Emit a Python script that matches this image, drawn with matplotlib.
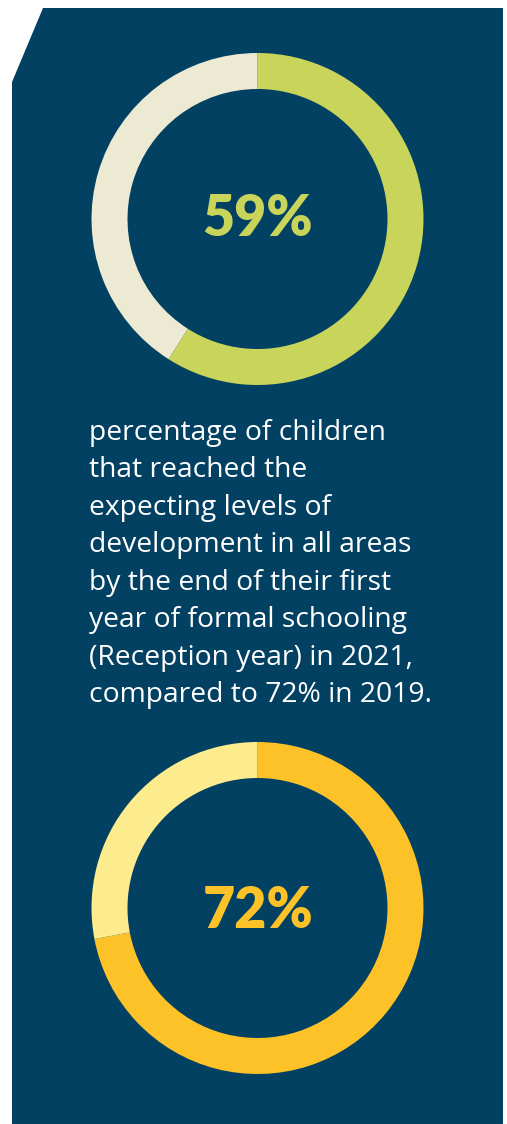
import matplotlib.pyplot as plt
from matplotlib.patches import Polygon

# values shown in the two rings
share_2021 = [59, 41]
share_2019 = [72, 28]
labels = ["59%", "72%"]

caption = ("percentage of children\n"
           "that reached the\n"
           "expecting levels of\n"
           "development in all areas\n"
           "by the end of their first\n"
           "year of formal schooling\n"
           "(Reception year) in 2021,\n"
           "compared to 72% in 2019.")

W, H = 507, 1124
navy = '#034163'

fig = plt.figure(figsize=(W / 100, H / 100), dpi=100)
fig.patch.set_facecolor('white')
ax = fig.add_axes([0, 0, 1, 1])

# background panel with the cut corner (pixel coords, y up)
panel = Polygon([(12, H - 82), (43, H - 8), (503, H - 8), (503, 0), (12, 0)],
                closed=True, facecolor=navy, edgecolor='none', zorder=0)
ax.add_patch(panel)

# ring width is in data units (pixels here)
ring = dict(width=36, edgecolor='none')

ax.pie(share_2021, colors=['#C8D55A', '#ECEAD3'], startangle=90, counterclock=False,
       center=(257.5, H - 219), radius=166, wedgeprops=ring, frame=True)
ax.pie(share_2019, colors=['#FEC229', '#FCEC8E'], startangle=90, counterclock=False,
       center=(257.5, H - 908), radius=166, wedgeprops=ring, frame=True)

ax.text(258, H - 219, labels[0], color='#C8D55A', fontsize=40, fontweight='heavy',
        family='Lato', ha='center', va='center')
ax.text(258, H - 911, labels[1], color='#FEC229', fontsize=40, fontweight='heavy',
        family='Lato', ha='center', va='center')

ax.text(89, H - 419, caption, color='white', fontsize=20.3, family='Open Sans',
        ha='left', va='top', linespacing=1.45)

ax.set_xlim(0, W)
ax.set_ylim(0, H)
ax.set_aspect('auto')
ax.axis('off')

fig.savefig('out.png', dpi=100, facecolor='white')
